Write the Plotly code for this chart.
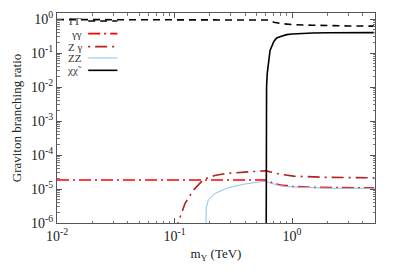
import numpy as np
import plotly.graph_objects as go

# ---- data ----
x_gg_big = [0.01, 0.1, 0.3, 0.5, 0.6, 0.62, 0.65, 0.7, 0.8, 1.0, 1.5, 2.0, 3.0, 5.0]
y_gg_big = [0.97, 0.97, 0.97, 0.97, 0.97, 0.94, 0.88, 0.81, 0.74, 0.69, 0.66, 0.64, 0.63, 0.62]

x_chi = [0.6, 0.6003, 0.601, 0.603, 0.607, 0.615, 0.628, 0.65, 0.7, 0.74, 0.8, 0.9, 1.0, 1.17, 1.5, 2.0, 3.0, 5.0]
y_chi = [1e-9, 1e-5, 3e-4, 3e-3, 0.01, 0.025, 0.045, 0.12, 0.22, 0.28, 0.31, 0.35, 0.365, 0.38, 0.39, 0.395, 0.40, 0.40]

x_aa = [0.01, 0.1, 0.3, 0.5, 0.6, 0.62, 0.65, 0.7, 0.8, 1.0, 1.5, 2.0, 3.0, 5.0]
y_aa = [1.85e-5, 1.85e-5, 1.85e-5, 1.85e-5, 1.85e-5, 1.75e-5, 1.6e-5, 1.45e-5, 1.3e-5, 1.2e-5, 1.12e-5, 1.1e-5, 1.09e-5, 1.08e-5]

x_za = [0.1, 0.107, 0.123, 0.145, 0.176, 0.22, 0.278, 0.4, 0.534, 0.6, 0.65, 0.69, 0.8, 1.03, 1.5, 2.0, 3.0, 5.0]
y_za = [3e-7, 1e-6, 3.8e-6, 9.3e-6, 1.9e-5, 2.5e-5, 2.9e-5, 3.2e-5, 3.4e-5, 3.45e-5, 3.2e-5, 3.05e-5, 2.7e-5, 2.4e-5, 2.25e-5, 2.2e-5, 2.17e-5, 2.15e-5]

x_zz = [0.1825, 0.1835, 0.186, 0.194, 0.221, 0.278, 0.385, 0.5, 0.6, 0.65, 0.7, 0.8, 1.0, 1.5, 2.0, 3.0, 5.0]
y_zz = [1e-8, 1.2e-6, 2.8e-6, 4.8e-6, 7.4e-6, 1.05e-5, 1.38e-5, 1.58e-5, 1.68e-5, 1.5e-5, 1.4e-5, 1.25e-5, 1.15e-5, 1.08e-5, 1.06e-5, 1.05e-5, 1.05e-5]

labels = ["ΓΓ", "γγ", "Z γ", "ZZ", "χχ̃"]
colors = ["black", "#ff0000", "#b22222", "#87c3e6", "black"]
dashes = ["7px,5px", "12px,4px,2px,4px", "2px,5px,12px,5px", "solid", "solid"]
widths = [1.6, 1.6, 1.6, 1.0, 1.6]

x_ticks = [0.01, 0.1, 1.0]
x_ticktext = ["10<sup>-2</sup>", "10<sup>-1</sup>", "10<sup>0</sup>"]
y_ticks = [1e-6, 1e-5, 1e-4, 1e-3, 1e-2, 1e-1, 1.0]
y_ticktext = ["10<sup>-6</sup>", "10<sup>-5</sup>", "10<sup>-4</sup>", "10<sup>-3</sup>",
              "10<sup>-2</sup>", "10<sup>-1</sup>", "10<sup>0</sup>"]

minor_x = [m * 10.0 ** e for e in (-2, -1, 0) for m in range(2, 10) if m * 10.0 ** e <= 5.1]
minor_y = [m * 10.0 ** e for e in range(-6, 1) for m in range(2, 10) if m * 10.0 ** e <= 1.5]

SERIF = "Liberation Serif, Times New Roman, serif"

fig = go.Figure()
series = [(x_gg_big, y_gg_big), (x_aa, y_aa), (x_za, y_za), (x_zz, y_zz), (x_chi, y_chi)]
for i, (xs, ys) in enumerate(series):
    fig.add_trace(go.Scatter(x=xs, y=ys, mode="lines", name=labels[i],
                             line=dict(color=colors[i], width=widths[i], dash=dashes[i]),
                             showlegend=False))

# manual gnuplot-style legend (text right-aligned, sample to the right)
row_y = [0.962, 0.902, 0.84, 0.786, 0.727]
for i, lab in enumerate(labels):
    fig.add_annotation(x=0.085, y=row_y[i], xref="paper", yref="paper", text=lab,
                       showarrow=False, xanchor="right", yanchor="middle",
                       font=dict(family=SERIF, size=11, color="#333"))
    fig.add_shape(type="line", xref="paper", yref="paper", x0=0.098, x1=0.19,
                  y0=row_y[i], y1=row_y[i],
                  line=dict(color=colors[i], width=widths[i], dash=dashes[i]))

axis_common = dict(showgrid=False, zeroline=False, showline=True, linecolor="#555",
                   linewidth=1, mirror="allticks", ticks="inside", ticklen=5,
                   tickcolor="#555", tickfont=dict(family=SERIF, size=14, color="#222"))

fig.update_xaxes(type="log", range=[-2, np.log10(5.08)], tickvals=x_ticks, ticktext=x_ticktext,
                 minor=dict(ticks="inside", ticklen=2.5, tickcolor="#777", tickvals=minor_x),
                 title=dict(text="m<sub>Y</sub> (TeV)", font=dict(family=SERIF, size=13, color="#222"),
                            standoff=6),
                 **axis_common)
fig.update_yaxes(type="log", range=[-6, 0.18], tickvals=y_ticks, ticktext=y_ticktext,
                 minor=dict(ticks="inside", ticklen=2.5, tickcolor="#777", tickvals=minor_y),
                 title=dict(text="Graviton branching ratio", font=dict(family=SERIF, size=13, color="#222"),
                            standoff=6),
                 **axis_common)

# the page body adds an 8px offset, so the figure's margins are reduced by 8px on left/top
fig.update_layout(width=399, height=279, margin=dict(l=49, r=32, t=5, b=64, autoexpand=False),
                  plot_bgcolor="white", paper_bgcolor="white",
                  font=dict(family=SERIF))

fig.write_html("out.html")
